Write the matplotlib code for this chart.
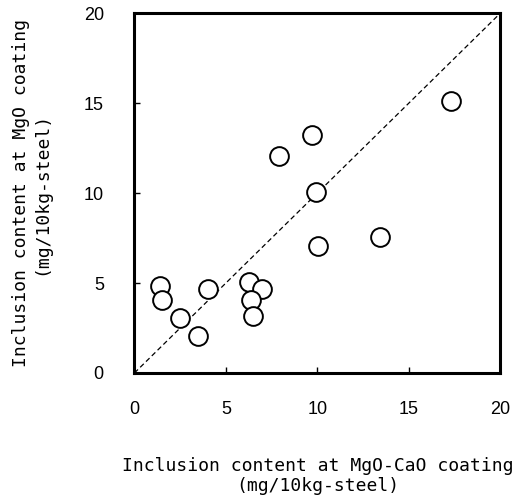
import matplotlib
matplotlib.use("Agg")
import matplotlib.pyplot as plt

# Data
x_mgo_cao = [17.3, 9.7, 7.9, 9.95, 10.05, 13.4, 1.4, 1.5, 2.5, 3.5, 4.0, 6.25, 6.95, 6.4, 6.5]
y_mgo = [15.1, 13.25, 12.05, 10.05, 7.05, 7.55, 4.85, 4.05, 3.05, 2.05, 4.65, 5.05, 4.65, 4.05, 3.15]
ticks = [0, 5, 10, 15, 20]
xlabel = "Inclusion content at MgO-CaO coating\n(mg/10kg-steel)"
ylabel = "Inclusion content at MgO coating\n(mg/10kg-steel)"

fig = plt.figure(figsize=(5.25, 4.97), dpi=100)
ax = fig.add_axes([0.256, 0.2495, 0.697, 0.724])

ax.plot([0, 20], [0, 20], linestyle=(0, (4, 2.5)), color="black", linewidth=0.9)
ax.scatter(x_mgo_cao, y_mgo, s=13.5**2, facecolors="white", edgecolors="black",
           linewidths=1.4, zorder=3)

ax.set_xlim(0, 20)
ax.set_ylim(0, 20)
ax.set_xticks(ticks)
ax.set_yticks(ticks)
ax.set_xticklabels([str(t) for t in ticks])
ax.set_yticklabels([str(t) for t in ticks])
ax.tick_params(direction="in", length=4, width=1, labelsize=13, pad=0)
ax.tick_params(axis="x", pad=20)
ax.tick_params(axis="y", pad=22)
for lab in ax.get_xticklabels() + ax.get_yticklabels():
    lab.set_family("Liberation Sans")

for s in ax.spines.values():
    s.set_linewidth(2.2)

ax.set_xlabel(xlabel, family="DejaVu Sans Mono", fontsize=13, labelpad=28,
              linespacing=1.2)
ax.set_ylabel(ylabel, family="DejaVu Sans Mono", fontsize=13, labelpad=24,
              linespacing=1.2)

fig.savefig("out.png", dpi=100)
